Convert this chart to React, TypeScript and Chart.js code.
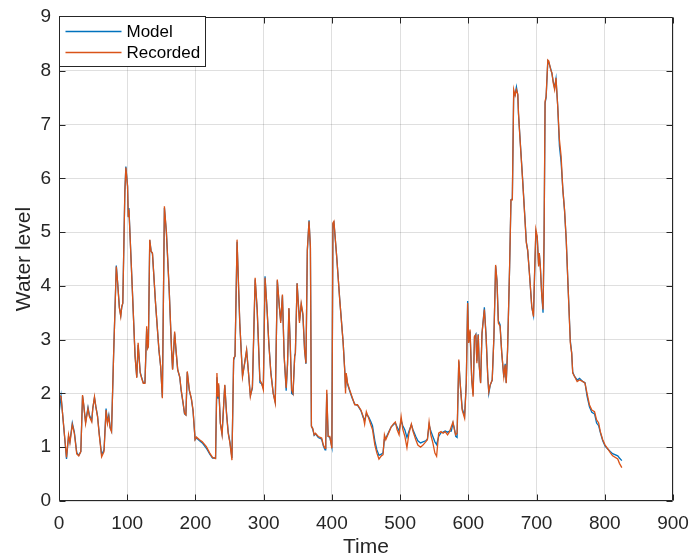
import React, { useEffect, useRef } from "react";
import { Chart, registerables } from "chart.js";

Chart.register(...registerables);

const times = [
  0, 3, 11, 14, 16, 19.5, 22.5, 26, 29, 32, 34.5, 36, 39, 42.5, 44.5, 48, 49.5, 52, 54, 56.5,
  59, 62.5, 66, 69, 71, 73, 75, 77, 80, 84, 86, 88.5, 90.5, 92, 93.5, 96.5, 98, 100.5, 101.5, 102.5,
  107.5, 111.5, 114, 116, 119, 121, 123.5, 126, 128.5, 130, 131, 133, 135, 137, 141.5, 146.5, 149, 151.5, 154.5, 157.5,
  161.5, 165, 166.5, 169.5, 171.5, 174, 177, 179, 182, 184, 186, 188, 191, 194, 196.5, 199.5, 201.5, 206, 210, 216,
  221, 225, 229.5, 231.5, 233, 234, 236.5, 239, 243, 245.5, 248, 250.5, 253.5, 256, 258, 261, 265, 269, 272, 275,
  277, 280.5, 283.5, 287.5, 290.5, 294.5, 297, 299.5, 302, 305, 307.5, 310.5, 314, 317, 320, 323, 325, 327.5, 330, 333,
  335, 337, 339, 341, 343, 345.5, 346.5, 349, 352.5, 355, 357.5, 360, 362, 364, 366.5, 368.5, 370, 372, 374, 376,
  380, 385, 387.5, 390, 391, 392.5, 394.5, 397, 400, 401.5, 403, 407, 411.5, 416.5, 419, 420, 421, 423, 426, 429.5,
  433.5, 437.5, 442.5, 446, 448, 450.5, 454, 457, 459.5, 463, 466, 469, 472.5, 475, 477, 479, 481, 484, 487, 490.5,
  493, 495.5, 498.5, 501.5, 504, 507, 510, 513, 516.5, 519, 523, 526, 530, 533.5, 537.5, 540, 542.5, 545, 548, 551,
  553.5, 556.5, 560, 563, 566, 569.5, 572.5, 575, 577.5, 579.5, 581.5, 583.5, 586, 588, 591, 594.5, 597, 599, 600.5, 602.5,
  605, 607, 609, 611, 612.5, 614.5, 616, 618, 620, 623.5, 626, 628.5, 630, 632, 635, 637.5, 640, 642, 644, 646.5,
  649, 652, 654, 655.5, 657.5, 660.5, 662.5, 664.5, 666.5, 668.5, 670.5, 672.5, 673.5, 675.5, 679.5, 683, 685, 687, 689.5, 693,
  695.5, 697, 699, 701, 703, 704, 705.5, 707.5, 709.5, 711, 712.5, 714, 716.5, 718, 720.5, 722.5, 724.5, 726.5, 728.5, 731,
  733.5, 736, 738.5, 741, 743.5, 746, 749.5, 751.5, 753, 755.5, 759.5, 763, 768, 771, 774, 777.5, 781, 785, 788, 791,
  793.5, 797, 800.5, 804, 808, 811.5, 819, 821.5, 825,
];

const recorded = [
  1.97, 1.94, 0.81, 1.23, 1.08, 1.42, 1.26, 0.875, 0.84, 0.92, 1.97, 1.82, 1.44, 1.72, 1.57, 1.47, 1.72, 1.94, 1.75, 1.57,
  1.23, 0.82, 0.92, 1.69, 1.44, 1.57, 1.35, 1.29, 2.69, 4.36, 4.05, 3.59, 3.43, 3.62, 3.68, 5.73, 6.2, 5.85, 5.29, 5.42,
  3.93, 2.69, 2.29, 2.94, 2.38, 2.29, 2.19, 2.19, 3.25, 2.84, 2.87, 4.86, 4.64, 4.61, 3.68, 2.81, 2.5, 1.91, 5.48, 4.98,
  3.93, 2.81, 2.44, 3.15, 2.81, 2.44, 2.31, 2.07, 1.82, 1.63, 1.6, 2.41, 2.07, 1.91, 1.69, 1.14, 1.19, 1.14, 1.1, 1.01,
  0.89, 0.81, 0.79, 2.38, 1.94, 2.19, 1.44, 1.23, 2.16, 1.63, 1.26, 1.08, 0.76, 2.66, 2.69, 4.86, 3.31, 2.31, 2.56, 2.81,
  2.5, 1.94, 2.13, 4.15, 3.56, 2.25, 2.19, 2.07, 4.15, 3.56, 2.94, 2.38, 2.0, 1.82, 4.12, 3.62, 3.31, 3.84, 2.69, 2.1,
  2.56, 3.59, 2.88, 2.07, 2.0, 2.69, 2.75, 4.05, 3.31, 3.68, 3.49, 2.81, 2.56, 4.67, 5.2, 4.73, 1.38, 1.35, 1.23, 1.26,
  1.2, 1.17, 1.04, 0.98, 1.14, 2.07, 1.2, 1.2, 0.98, 5.17, 5.2, 4.55, 3.74, 2.94, 2.38, 2.0, 2.38, 2.19, 2.07, 1.94,
  1.79, 1.79, 1.69, 1.57, 1.43, 1.66, 1.54, 1.42, 1.33, 1.04, 0.89, 0.78, 0.84, 0.86, 1.23, 1.14, 1.2, 1.29, 1.38, 1.44,
  1.47, 1.33, 1.23, 1.57, 1.33, 1.2, 0.99, 1.26, 1.43, 1.29, 1.14, 1.04, 1.0, 1.04, 1.1, 1.14, 1.47, 1.23, 1.08, 0.89,
  0.83, 1.26, 1.29, 1.26, 1.29, 1.23, 1.29, 1.38, 1.47, 1.33, 1.23, 1.26, 2.63, 2.19, 1.69, 1.54, 2.19, 3.68, 2.94, 3.19,
  2.25, 1.94, 3.06, 3.09, 2.56, 3.09, 2.5, 2.19, 3.12, 3.56, 3.06, 2.31, 2.03, 2.16, 2.25, 3.06, 4.39, 4.08, 3.31, 3.25,
  2.75, 2.31, 2.53, 2.19, 2.81, 4.36, 5.6, 5.6, 7.65, 7.54, 7.65, 7.56, 7.22, 6.78, 5.98, 5.23, 4.8, 4.67, 4.24, 3.62,
  3.43, 4.18, 5.05, 4.92, 4.36, 4.61, 4.36, 3.86, 3.56, 4.9, 7.43, 7.52, 8.2, 8.18, 8.03, 7.96, 7.77, 7.65, 7.87, 7.34,
  6.72, 6.41, 5.79, 5.42, 4.86, 4.05, 2.94, 2.75, 2.38, 2.32, 2.22, 2.25, 2.22, 2.19, 2.0, 1.79, 1.69, 1.66, 1.51, 1.45,
  1.29, 1.14, 1.04, 0.98, 0.9, 0.84, 0.78, 0.7, 0.62,
];

const model = [
  1.63, 1.95, 0.78, 1.2, 1.1, 1.45, 1.28, 0.9, 0.85, 0.92, 1.95, 1.8, 1.47, 1.74, 1.6, 1.5, 1.72, 1.92, 1.76, 1.58,
  1.25, 0.86, 0.95, 1.72, 1.47, 1.6, 1.37, 1.3, 2.7, 4.38, 4.05, 3.6, 3.45, 3.6, 3.68, 5.75, 6.22, 5.85, 5.3, 5.45,
  3.93, 2.7, 2.3, 2.9, 2.4, 2.3, 2.2, 2.2, 3.2, 2.85, 2.87, 4.85, 4.65, 4.6, 3.68, 2.8, 2.5, 1.93, 5.45, 4.98,
  3.93, 2.8, 2.45, 3.12, 2.8, 2.44, 2.3, 2.06, 1.8, 1.62, 1.6, 2.4, 2.05, 1.9, 1.67, 1.14, 1.17, 1.12, 1.08, 0.98,
  0.87, 0.8, 0.8, 2.3, 1.9, 2.15, 1.45, 1.25, 2.15, 1.65, 1.28, 1.1, 0.8, 2.62, 2.7, 4.82, 3.3, 2.33, 2.55, 2.8,
  2.5, 1.96, 2.1, 4.12, 3.55, 2.2, 2.18, 2.1, 4.18, 3.55, 2.95, 2.4, 2.0, 1.84, 4.1, 3.6, 3.35, 3.82, 2.7, 2.05,
  2.55, 3.58, 2.9, 2.0, 1.98, 2.7, 2.75, 4.05, 3.35, 3.65, 3.45, 2.8, 2.55, 4.65, 5.22, 4.7, 1.4, 1.33, 1.22, 1.25,
  1.18, 1.15, 1.02, 0.95, 1.12, 2.0, 1.2, 1.18, 1.0, 5.15, 5.18, 4.55, 3.75, 2.95, 2.4, 2.1, 2.35, 2.17, 2.05, 1.92,
  1.8, 1.78, 1.68, 1.55, 1.5, 1.62, 1.56, 1.48, 1.4, 1.12, 0.95, 0.85, 0.87, 0.9, 1.15, 1.18, 1.22, 1.3, 1.38, 1.42,
  1.45, 1.38, 1.3, 1.5, 1.4, 1.32, 1.18, 1.3, 1.42, 1.32, 1.2, 1.12, 1.08, 1.1, 1.12, 1.15, 1.42, 1.3, 1.2, 1.1,
  1.05, 1.2, 1.27, 1.28, 1.3, 1.28, 1.3, 1.3, 1.45, 1.35, 1.2, 1.18, 2.6, 2.2, 1.72, 1.58, 2.2, 3.72, 2.95, 3.15,
  2.25, 1.98, 3.05, 3.1, 2.6, 3.1, 2.52, 2.2, 3.1, 3.6, 3.08, 2.3, 2.0, 2.15, 2.25, 3.05, 4.37, 4.1, 3.35, 3.28,
  2.75, 2.3, 2.55, 2.2, 2.8, 4.35, 5.6, 5.62, 7.6, 7.55, 7.7, 7.55, 7.2, 6.8, 6.0, 5.25, 4.82, 4.65, 4.25, 3.6,
  3.45, 4.15, 5.0, 4.9, 4.4, 4.6, 4.38, 3.85, 3.5, 4.8, 7.4, 7.5, 8.18, 8.15, 8.05, 7.95, 7.8, 7.68, 7.85, 7.35,
  6.6, 6.3, 5.8, 5.4, 4.85, 4.05, 2.98, 2.75, 2.4, 2.32, 2.25, 2.28, 2.22, 2.2, 1.95, 1.75, 1.65, 1.62, 1.45, 1.4,
  1.27, 1.12, 1.02, 0.97, 0.92, 0.88, 0.84, 0.8, 0.75,
];

const seriesNames = ["Model", "Recorded"];
const seriesColors = ["#0072BD", "#D95319"];
const xTickValues = [0, 100, 200, 300, 400, 500, 600, 700, 800, 900];
const yTickValues = [0, 1, 2, 3, 4, 5, 6, 7, 8, 9];
const xLabel = "Time";
const yLabel = "Water level";

const FONT = "'Liberation Sans', Arial, Helvetica, sans-serif";
const AXIS = "#262626";

export default function App() {
  const ref = useRef<HTMLCanvasElement | null>(null);

  useEffect(() => {
    const canvas = ref.current;
    if (!canvas) return;

    const framePlugin = {
      id: "matlabFrame",
      afterDraw(chart: any) {
        const { ctx, chartArea: a, scales } = chart;
        const L = Math.round(a.left) + 0.5;
        const R = Math.round(a.right) - 0.5;
        const T = Math.round(a.top) + 0.5;
        const B = Math.round(a.bottom) - 0.5;
        const tl = 6;
        ctx.save();
        ctx.strokeStyle = AXIS;
        ctx.lineWidth = 1;
        ctx.beginPath();
        ctx.rect(L, T, R - L, B - T);
        for (const v of xTickValues) {
          const p = Math.round(scales.x.getPixelForValue(v)) + 0.5;
          ctx.moveTo(p, B);
          ctx.lineTo(p, B - tl);
          ctx.moveTo(p, T);
          ctx.lineTo(p, T + tl);
        }
        for (const v of yTickValues) {
          const p = Math.round(scales.y.getPixelForValue(v)) + 0.5;
          ctx.moveTo(L, p);
          ctx.lineTo(L + tl, p);
          ctx.moveTo(R, p);
          ctx.lineTo(R - tl, p);
        }
        ctx.stroke();

        // legend box
        const bx = L;
        const by = T - 1;
        const bw = 146;
        const bh = 50;
        ctx.fillStyle = "#ffffff";
        ctx.fillRect(bx, by, bw, bh);
        ctx.strokeStyle = AXIS;
        ctx.strokeRect(bx, by, bw, bh);
        const rows = [by + 14.5, by + 35.5];
        ctx.font = `17px ${FONT}`;
        ctx.textBaseline = "middle";
        ctx.textAlign = "left";
        seriesNames.forEach((name, i) => {
          const y = Math.round(rows[i]) + 0.5;
          ctx.strokeStyle = seriesColors[i];
          ctx.lineWidth = 1.3;
          ctx.beginPath();
          ctx.moveTo(bx + 6, y);
          ctx.lineTo(bx + 62, y);
          ctx.stroke();
          ctx.fillStyle = "#000000";
          ctx.fillText(name, bx + 67, y + 0.5);
        });
        ctx.restore();
      },
    };

    const chart = new Chart(canvas, {
      type: "line",
      data: {
        datasets: [
          {
            label: seriesNames[0],
            data: times.map((t, i) => ({ x: t, y: model[i] })),
            borderColor: seriesColors[0],
            backgroundColor: seriesColors[0],
            borderWidth: 1.3,
            pointRadius: 0,
            tension: 0,
            order: 1,
          },
          {
            label: seriesNames[1],
            data: times.map((t, i) => ({ x: t, y: recorded[i] })),
            borderColor: seriesColors[1],
            backgroundColor: seriesColors[1],
            borderWidth: 1.3,
            pointRadius: 0,
            tension: 0,
            order: 0,
          },
        ],
      },
      options: {
        animation: false,
        responsive: false,
        devicePixelRatio: 1,
        events: [],
        layout: { padding: { left: 0, right: 21, top: 17, bottom: 0 } },
        plugins: {
          legend: { display: false },
          tooltip: { enabled: false },
          title: { display: false },
        },
        scales: {
          x: {
            type: "linear",
            min: 0,
            max: 900,
            afterFit: (s: any) => {
              s.height = 56;
              s.paddingLeft = 0;
              s.paddingRight = 0;
            },
            afterBuildTicks: (s: any) => {
              s.ticks = xTickValues.map((v) => ({ value: v }));
            },
            ticks: {
              padding: 11,
              color: AXIS,
              font: { family: FONT, size: 19 },
              maxRotation: 0,
              autoSkip: false,
            },
            grid: {
              color: "rgba(38,38,38,0.15)",
              lineWidth: 1,
              drawTicks: false,
            },
            border: { display: false },
            title: {
              display: true,
              text: xLabel,
              color: AXIS,
              font: { family: FONT, size: 21, lineHeight: 1 },
              padding: { top: 0, bottom: -1 },
            },
          },
          y: {
            type: "linear",
            min: 0,
            max: 9,
            afterFit: (s: any) => {
              s.width = 59;
              s.paddingTop = 0;
              s.paddingBottom = 0;
            },
            afterBuildTicks: (s: any) => {
              s.ticks = yTickValues.map((v) => ({ value: v }));
            },
            ticks: {
              padding: 8,
              color: AXIS,
              font: { family: FONT, size: 19 },
              autoSkip: false,
            },
            grid: {
              color: "rgba(38,38,38,0.15)",
              lineWidth: 1,
              drawTicks: false,
            },
            border: { display: false },
            title: {
              display: true,
              text: yLabel,
              color: AXIS,
              font: { family: FONT, size: 21, lineHeight: 1 },
              padding: { top: 14, bottom: 0 },
            },
          },
        },
      },
      plugins: [framePlugin],
    });

    return () => {
      chart.destroy();
    };
  }, []);

  return (
    <div style={{ position: "fixed", left: 0, top: 0, width: 694, height: 557, background: "#ffffff" }}>
      <canvas ref={ref} width={694} height={557} style={{ display: "block" }} />
    </div>
  );
}
